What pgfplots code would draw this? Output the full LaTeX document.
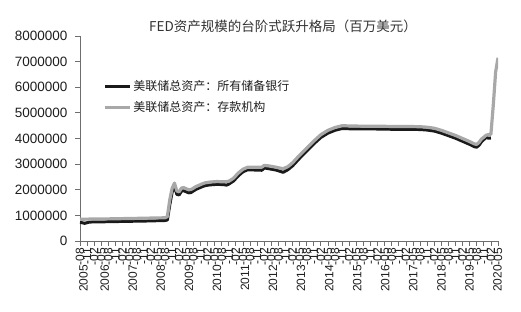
\documentclass[border=0pt]{standalone}
\usepackage{fontspec}
\setmainfont{Liberation Sans}
\newfontfamily\cjk{Noto Sans CJK SC}
\usepackage{pgfplots}
\pgfplotsset{compat=1.18}
\definecolor{serA}{HTML}{1A1A1A}
\definecolor{serB}{HTML}{A8A8A8}
\definecolor{axisgray}{HTML}{6E6E6E}
\definecolor{titlecol}{HTML}{333333}
\definecolor{labcol}{HTML}{1E1E1E}
\begin{document}
\begin{tikzpicture}
\useasboundingbox (-80pt,-71pt) rectangle (441pt,241pt);
\begin{axis}[
  scale only axis, width=418pt, height=205pt,
  at={(0pt,0pt)}, anchor=south west,
  xmin=0, xmax=177, ymin=0, ymax=8000000,
  axis x line*=bottom, axis y line*=left,
  xtick pos=bottom, ytick pos=left,
  axis line style={axisgray, line width=0.8pt},
  tick style={axisgray, line width=0.8pt},
  tick align=outside, major tick length=5pt,
  xtick={0,3,6,9,12,15,18,21,24,27,30,33,36,39,42,45,48,51,54,57,60,63,66,69,72,75,78,81,84,87,90,93,96,99,102,105,108,111,114,117,120,123,126,129,132,135,138,141,144,147,150,153,156,159,162,165,168,171,174,177},
  xticklabels={-08,-11,-02,-05,-08,-11,-02,-05,-08,-11,-02,-05,-08,-11,-02,-05,-08,-11,-02,-05,-08,-11,-02,-05,-08,-11,-02,-05,-08,-11,-02,-05,-08,-11,-02,-05,-08,-11,-02,-05,-08,-11,-02,-05,-08,-11,-02,-05,-08,-11,-02,-05,-08,-11,-02,-05,-08,-11,-02,-05},
  extra x ticks={1.5,10.47,22.35,34.23,46.11,57.99,69.87,81.75,93.63,105.51,117.39,129.27,141.15,153.03,164.91,176.79},
  extra x tick labels={2005\phantom{-08},2006\phantom{-08},2007\phantom{-08},2008\phantom{-08},2009\phantom{-08},2010\phantom{-08},2011\phantom{-08},2012\phantom{-08},2013\phantom{-08},2014\phantom{-08},2015\phantom{-08},2016\phantom{-08},2017\phantom{-08},2018\phantom{-08},2019\phantom{-08},2020\phantom{-08}},
  extra x tick style={tick style={draw=none}},
  xticklabel style={rotate=90, anchor=east, font=\fontsize{12}{12}\selectfont, text=labcol, inner sep=1.5pt},
  ytick={0,1000000,2000000,3000000,4000000,5000000,6000000,7000000,8000000},
  scaled y ticks=false,
  yticklabel style={/pgf/number format/fixed, /pgf/number format/1000 sep={}, font=\fontsize{13.5}{13.5}\selectfont, text=labcol, xshift=-4pt},
  /pgf/number format/assume math mode=true,
  legend style={draw=none, fill=none, at={(0.056,0.79)}, anchor=north west,
    font=\cjk\fontsize{12}{12}\selectfont, text=labcol, row sep=6pt, inner sep=0pt,
    nodes={inner sep=1.5pt}},
  legend cell align=left,
  legend image code/.code={\draw[#1] (0pt,0pt) -- (25pt,0pt);},
]
\addplot[serA, line width=3pt, line join=round] coordinates {
(0,730000) (2,690000) (4,740000) (10,750000) (16,760000) (22,770000) (28,780000) (32,790000) (36,800000)
(37,820000) (38,1400000) (39,1900000) (40,2150000) (41,1820000) (42,1800000) (43,1950000) (44,1960000)
(45,1920000) (46,1880000) (47,1890000) (48,1950000) (49,2010000) (50,2050000) (51,2090000) (52,2130000)
(53,2160000) (55,2190000) (58,2210000) (61,2200000) (62,2180000) (63,2220000) (65,2340000) (67,2540000)
(69,2700000) (71,2780000) (74,2770000) (77,2760000) (78,2850000) (80,2820000) (83,2770000) (86,2680000)
(88,2780000) (90,2930000) (93,3230000) (96,3510000) (99,3790000) (102,4040000) (105,4210000) (108,4320000)
(111,4390000) (114,4380000) (120,4380000) (126,4370000) (132,4360000) (138,4360000) (144,4350000)
(147,4330000) (150,4290000) (153,4210000) (156,4110000) (159,4010000) (162,3890000) (165,3770000)
(167,3680000) (168,3660000) (169,3740000) (170,3870000) (171,3960000) (172,4040000) (173,4010000) (174,4020000)
};
\addlegendentry{美联储总资产：所有储备银行}
\addplot[serB, line width=3.2pt, line join=round] coordinates {
(0,850000) (4,855000) (10,860000) (16,870000) (22,880000) (28,890000) (32,900000) (36,905000)
(37,950000) (38,1600000) (39,2050000) (40,2260000) (41,1950000) (42,1920000) (43,2070000) (44,2080000)
(45,2040000) (46,2000000) (47,2010000) (48,2060000) (49,2120000) (50,2160000) (51,2200000) (52,2240000)
(53,2270000) (55,2300000) (58,2320000) (61,2310000) (63,2330000) (65,2450000) (67,2650000) (69,2800000)
(71,2880000) (74,2880000) (77,2880000) (78,2950000) (80,2930000) (83,2880000) (86,2820000) (88,2900000)
(90,3050000) (93,3350000) (96,3620000) (99,3900000) (102,4150000) (105,4320000) (108,4430000) (111,4500000)
(114,4490000) (120,4480000) (126,4480000) (132,4470000) (138,4470000) (144,4460000) (147,4440000)
(150,4400000) (153,4320000) (156,4220000) (159,4120000) (162,4000000) (165,3880000) (167,3790000)
(168,3770000) (169,3850000) (170,3980000) (171,4050000) (172,4130000) (173,4150000) (174,4170000)
(175,5300000) (176,6600000) (177,7150000)
};
\addlegendentry{美联储总资产：存款机构}
\end{axis}
\node[font=\cjk\fontsize{13.5}{13.5}\selectfont, text=titlecol] at (203pt,215pt) {FED资产规模的台阶式跃升格局（百万美元）};
\end{tikzpicture}
\end{document}
